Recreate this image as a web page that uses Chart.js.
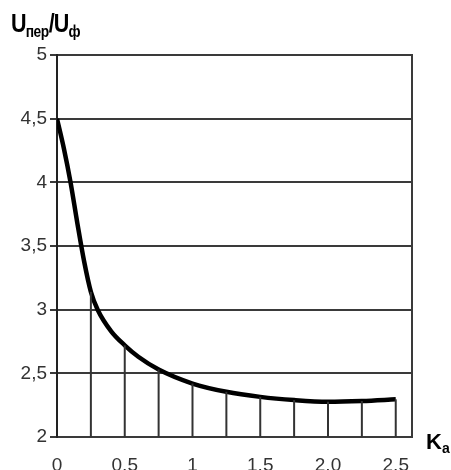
<!DOCTYPE html>
<html>
<head>
<meta charset="utf-8">
<script src="https://cdn.jsdelivr.net/npm/chart.js@4/dist/chart.umd.min.js"></script>
<style>
	body { margin: 0; background: #fff; }
	#wrap { position: relative; width: 451px; height: 470px; }
	#wrap canvas { display: block; }
	.lbl {
		position: absolute;
		font-family: 'Liberation Sans', Arial, sans-serif;
		font-weight: bold;
		color: #000;
		line-height: 1;
		white-space: nowrap;
		transform-origin: left top;
	}
	.lbl sub { vertical-align: -5px; }
</style>
</head>
<body>
<div id="wrap">
	<canvas id="chart" width="451" height="470"></canvas>
	<div class="lbl" style="left:11px; top:11px; font-size:25px; letter-spacing:-1px; transform:scaleX(0.86);">U<sub style="font-size:16px;letter-spacing:-0.5px;">пер</sub>/U<sub style="font-size:16px;">ф</sub></div>
	<div class="lbl" style="left:426px; top:431px; font-size:22px;">K<sub style="font-size:14px;vertical-align:-4px;">a</sub></div>
</div>
<script>
// Ka values and Uпер/Uф
const kaValues = [0, 0.05, 0.1, 0.15, 0.2, 0.25, 0.3, 0.4, 0.5, 0.6, 0.75, 1.0, 1.25, 1.5, 1.75, 2.0, 2.25, 2.5]
const ratioValues = [4.5, 4.27, 4.0, 3.68, 3.38, 3.14, 3.0, 2.83, 2.72, 2.63, 2.53, 2.42, 2.355, 2.315, 2.29, 2.277, 2.283, 2.296]

// x axis ticks
const xTickValues = [0, 0.5, 1, 1.5, 2, 2.5]
const xTickLabels = ['0', '0,5', '1', '1,5', '2,0', '2,5']

const yMin = 2
const yMax = 5
const xMax = 2.62

const tickFont = { family: "'Liberation Sans', Arial, sans-serif", size: 19 }
const gridColor = '#3a3a3a'

// vertical stems from the base to the curve every 0.25
const stemSets = []
kaValues.forEach((ka, i) => {
	if (ka > 0 && Math.abs(ka * 4 - Math.round(ka * 4)) < 1e-6) {
		stemSets.push({
			data: [{ x: ka, y: yMin }, { x: ka, y: ratioValues[i] }],
			borderColor: '#333',
			borderWidth: 2,
			pointRadius: 0,
			fill: false,
		})
	}
})

const curve = {
	data: kaValues.map((ka, i) => ({ x: ka, y: ratioValues[i] })),
	borderColor: '#000',
	borderWidth: 4.5,
	pointRadius: 0,
	fill: false,
	cubicInterpolationMode: 'monotone',
}

const config = {
	type: 'line',
	data: {
		datasets: [...stemSets, curve],
	},
	options: {
		responsive: false,
		animation: false,
		layout: {
			padding: { top: 55, right: 39, left: 0, bottom: 0 },
		},
		plugins: {
			legend: { display: false },
			tooltip: { enabled: false },
		},
		scales: {
			x: {
				type: 'linear',
				min: 0,
				max: xMax,
				afterFit: (scale) => { scale.height = 33 },
				afterBuildTicks: (scale) => {
					scale.ticks = xTickValues.map((v) => ({ value: v }))
				},
				ticks: {
					font: tickFont,
					color: '#333',
					padding: 9,
					maxRotation: 0,
					autoSkip: false,
					callback: (v) => xTickLabels[xTickValues.indexOf(v)],
				},
				grid: { display: false },
				border: { display: true, color: gridColor, width: 2 },
			},
			y: {
				min: yMin,
				max: yMax,
				afterFit: (scale) => { scale.width = 57 },
				ticks: {
					stepSize: 0.5,
					font: tickFont,
					color: '#333',
					padding: 3,
					callback: (v) => String(v).replace('.', ','),
				},
				grid: {
					color: gridColor,
					lineWidth: 2,
					tickLength: 7,
				},
				border: { display: true, color: '#222', width: 2 },
			},
			yRight: {
				position: 'right',
				min: yMin,
				max: yMax,
				afterFit: (scale) => { scale.width = 0 },
				ticks: { display: false },
				grid: { display: false },
				border: { display: true, color: gridColor, width: 2 },
			},
		},
	},
}

new Chart(document.getElementById('chart').getContext('2d'), config)
</script>
</body>
</html>
